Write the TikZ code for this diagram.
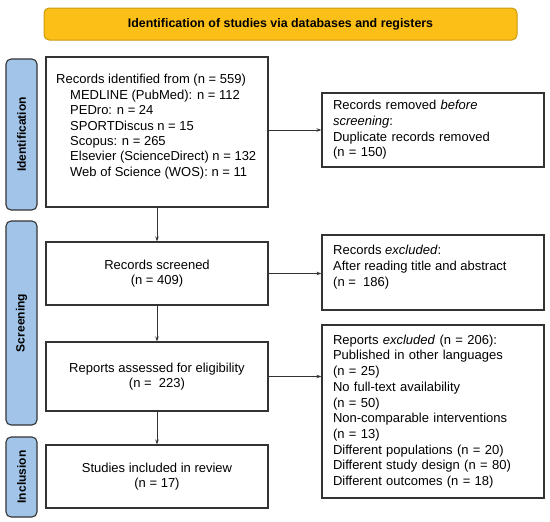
\documentclass[tikz,border=0pt]{standalone}
\usepackage{fontspec}
\setmainfont{Liberation Sans}
\usetikzlibrary{arrows.meta}
\definecolor{bannerfill}{HTML}{FCBF17}
\definecolor{bannerdraw}{HTML}{C99A10}
\definecolor{barfill}{HTML}{A2C4E8}
\definecolor{linegray}{HTML}{333333}
\begin{document}
\begin{tikzpicture}[x=1pt,y=-1pt,
 box/.style={draw=linegray, line width=1.1pt, fill=white, inner sep=0pt, minimum width=222pt},
 txt/.style={font=\fontsize{13}{15.7}\selectfont},
 phase/.style={draw=linegray, line width=1.1pt, fill=barfill, rounded corners=5pt, minimum width=31pt, inner sep=0pt},
 phasetxt/.style={font=\fontsize{12}{14}\selectfont\bfseries, rotate=90, inner sep=0pt},
 arr/.style={draw=linegray, line width=0.8pt, -{Stealth[length=5pt,width=3.5pt]}}
]
\path[use as bounding box] (0,0) rectangle (550,522);

\node[draw=bannerdraw, fill=bannerfill, rounded corners=5pt, line width=1pt,
      minimum width=473pt, minimum height=32pt, inner sep=0pt,
      font=\fontsize{12.4}{14}\selectfont\bfseries] (banner) at (280.5,24)
      {Identification of studies via databases and registers};

% phase bars
\node[phase, minimum height=151pt] (idbar) at (21.5,134.5) {};
\node[phasetxt] (idtxt) at (idbar.center) {Identification};
\node[phase, minimum height=204pt] (scrbar) at (21.5,323) {};
\node[phasetxt] (scrtxt) at (scrbar.center) {Screening};
\node[phase, minimum height=80pt] (incbar) at (21.5,477) {};
\node[phasetxt] (inctxt) at (incbar.center) {Inclusion};

% left column
\node[box, minimum height=150pt] (box1) at (157,132) {};
\node[anchor=north west, align=left, inner sep=0pt, font=\fontsize{13}{15.4}\selectfont]
  (box1txt) at (56,74.2) {Records identified from (n = 559)\\
  \hspace*{14pt}MEDLINE (PubMed): n = 112\\
  \hspace*{14pt}PEDro: n = 24\\
  \hspace*{14pt}SPORTDiscus n = 15\\
  \hspace*{14pt}Scopus: n = 265\\
  \hspace*{14pt}Elsevier (ScienceDirect) n = 132\\
  \hspace*{14pt}Web of Science (WOS): n = 11};

\node[box, txt, minimum height=63pt, align=center] (screened) at (157,273.5)
  {Records screened\\ (n = 409)};
\node[box, txt, minimum height=69pt, align=center] (assessed) at (157,376.5)
  {Reports assessed for eligibility\\ (n =\ \ 223)};
\node[box, txt, minimum height=63pt, align=center] (studies) at (157,476.5)
  {Studies included in review\\ (n = 17)};

% right column
\node[box, txt, minimum height=74pt, text width=200pt, inner xsep=11pt, align=left]
  (removed) at (433,130)
  {Records removed \textit{before}\\ \textit{screening}:\\ Duplicate records removed\\ (n = 150)};
\node[box, minimum height=75pt] (excluded) at (433,272.5) {};
\node[anchor=north west, align=left, inner sep=0pt, txt] (exctxt) at (333,245.2)
  {Records \textit{excluded}:\\ After reading title and abstract\\ (n =\ \ 186)};
\node[box, txt, minimum height=173pt, text width=200pt, inner xsep=11pt, align=left]
  (rex) at (433,411.5)
  {Reports \textit{excluded} (n = 206):\\
   Published in other languages\\
   (n = 25)\\
   No full-text availability\\
   (n = 50)\\
   Non-comparable interventions\\
   (n = 13)\\
   Different populations (n = 20)\\
   Different study design (n = 80)\\
   Different outcomes (n = 18)};

% connectors
\draw[arr] (box1.south) -- (screened.north);
\draw[arr] (screened.south) -- (assessed.north);
\draw[arr] (assessed.south) -- (studies.north);
\draw[arr] (box1.east |- removed.west) -- (removed.west);
\draw[arr] (screened.east) -- (screened.east -| excluded.west);
\draw[arr] (assessed.east) -- (assessed.east -| rex.west);
\end{tikzpicture}
\end{document}
